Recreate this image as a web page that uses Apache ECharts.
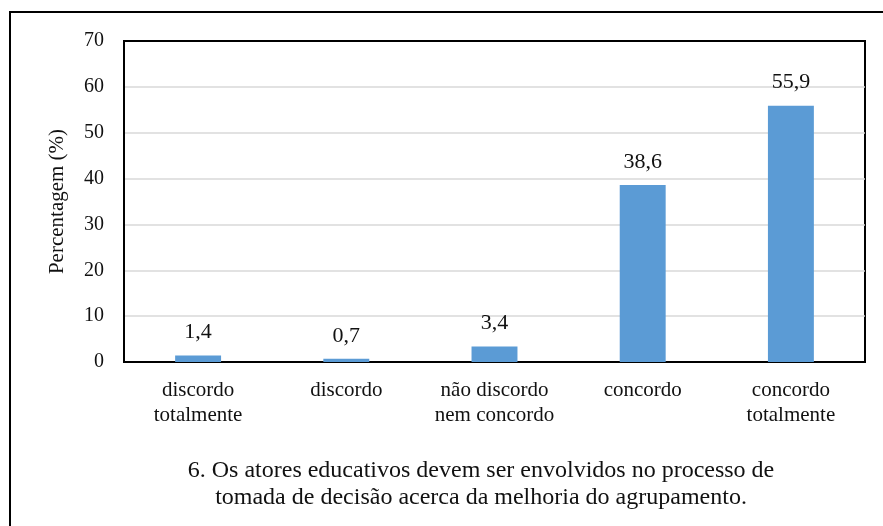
<!DOCTYPE html>
<html>
<head>
    <meta charset="UTF-8">
    <script src="https://cdn.jsdelivr.net/npm/echarts@6/dist/echarts.min.js"></script>
    <style>
        html, body { margin: 0; padding: 0; background: #fff; }
        #main { width: 883px; height: 526px; }
    </style>
</head>
<body>
<div id="main"></div>
<script type="text/javascript">
    var categories = ['discordo\ntotalmente', 'discordo', 'não discordo\nnem concordo', 'concordo', 'concordo\ntotalmente'];
    var percentagens = [1.4, 0.7, 3.4, 38.6, 55.9];
    var yTicks = [0, 10, 20, 30, 40, 50, 60, 70];
    var caption = '6. Os atores educativos devem ser envolvidos no processo de\ntomada de decisão acerca da melhoria do agrupamento.';

    var serif = '"Liberation Serif", "DejaVu Serif", serif';
    var myChart = echarts.init(document.getElementById('main'));
    var option = {
        animation: false,
        textStyle: { fontFamily: serif },
        grid: {
            left: 124, right: 18, top: 41, bottom: 164,
            show: true, borderColor: '#000', borderWidth: 2, backgroundColor: 'transparent'
        },
        graphic: [
            {
                type: 'rect',
                shape: { x: 10, y: 12, width: 900, height: 540 },
                style: { fill: 'none', stroke: '#000', lineWidth: 2 }
            },
            {
                type: 'text',
                x: 481,
                y: 457,
                style: {
                    text: caption, fontFamily: serif, fontSize: 24, fill: '#111',
                    align: 'center', lineHeight: 27
                }
            }
        ],
        xAxis: {
            type: 'category',
            data: categories,
            axisLine: { show: true, lineStyle: { color: '#000', width: 2 } },
            axisTick: { show: false },
            axisLabel: { color: '#111', fontSize: 21, lineHeight: 25, margin: 16, interval: 0 }
        },
        yAxis: {
            type: 'value',
            name: 'Percentagem (%)',
            nameLocation: 'middle',
            nameGap: 56,
            nameRotate: 90,
            nameTextStyle: { color: '#111', fontSize: 21, fontFamily: serif },
            min: yTicks[0],
            max: yTicks[yTicks.length - 1],
            interval: 10,
            axisLine: { show: true, lineStyle: { color: '#000', width: 2 } },
            axisTick: { show: false },
            axisLabel: { color: '#111', fontSize: 20, margin: 20 },
            splitLine: { showMaxLine: false, showMinLine: false, lineStyle: { color: '#d9d9d9', width: 1.5 } }
        },
        series: [{
            type: 'bar',
            data: percentagens,
            barWidth: '31%',
            itemStyle: { color: '#5b9bd5' },
            label: {
                show: true, position: 'top', distance: 12,
                color: '#111', fontSize: 22, fontFamily: serif,
                formatter: function (p) { return String(p.value).replace('.', ','); }
            }
        }]
    };
    myChart.setOption(option);
</script>
</body>
</html>
